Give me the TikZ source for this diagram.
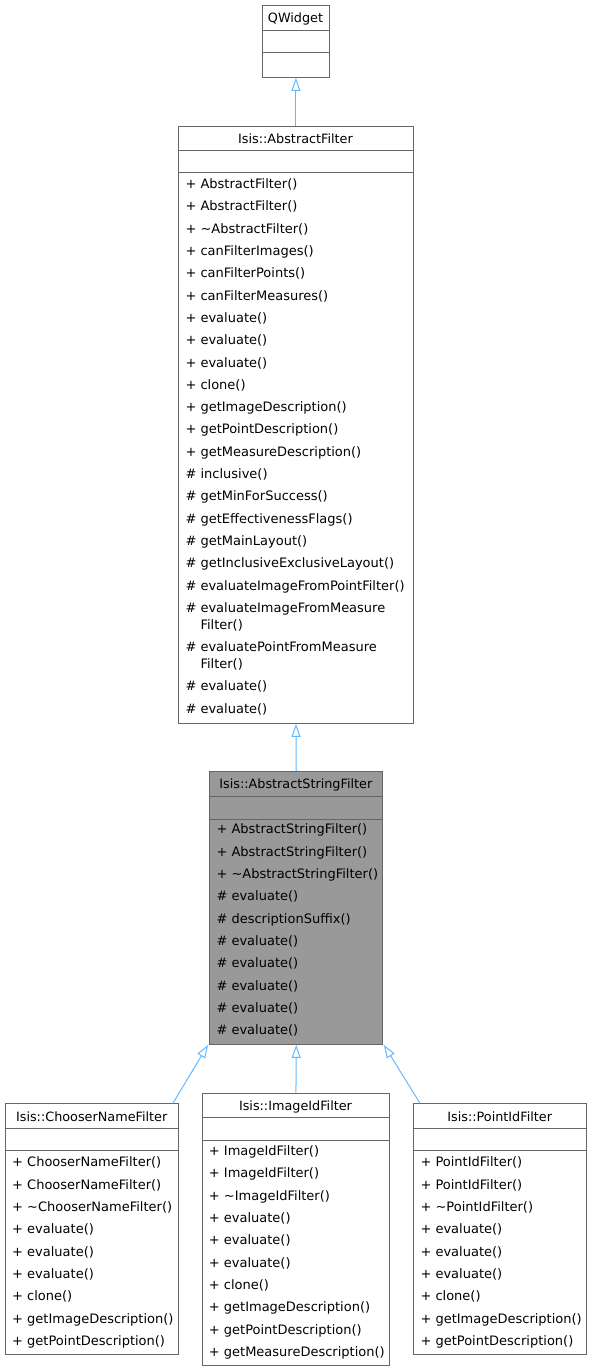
\documentclass[tikz,border=0pt]{standalone}
\usepackage{fontspec}
\setmainfont{DejaVu Sans}
\usetikzlibrary{arrows.meta}
\definecolor{boxline}{HTML}{666666}
\definecolor{boxfill}{HTML}{999999}
\definecolor{isacol}{HTML}{63B8FF}
\begin{document}
\begin{tikzpicture}[x=1pt, y=-1pt,
  cls/.style={draw=boxline, line width=0.9pt, inner sep=0pt, anchor=north west},
  sep/.style={draw=boxline, line width=0.9pt},
  title/.style={anchor=base, inner sep=0pt, font=\fontsize{12.8}{22.3}\selectfont},
  members/.style={anchor=north west, inner sep=0pt, align=left, font=\fontsize{13}{22.3}\selectfont},
  isa/.style={draw=isacol, line width=1pt, -{Triangle[open, length=13pt, width=9pt]}}]
\useasboundingbox (0,0) rectangle (592,1371);

% QWidget
\node[cls, minimum width=67pt, minimum height=72pt] (qwidget) at (262,5) {};
\draw[sep] (262,30) -- (329,30) (262,52) -- (329,52);
\node[title] (qwidget-t) at (295.5,22.7) {QWidget};

% Isis::AbstractFilter
\node[cls, minimum width=234.4pt, minimum height=597.3pt] (afilter) at (178.3,125.7) {};
\draw[sep] (178.3,150) -- (412.7,150) (178.3,172.7) -- (412.7,172.7);
\node[title] (afilter-t) at (295.5,143.4) {Isis::AbstractFilter};
\node[members] (afilter-m) at (185.3,178.6) {+ AbstractFilter()\\
+ AbstractFilter()\\
+ \textasciitilde AbstractFilter()\\
+ canFilterImages()\\
+ canFilterPoints()\\
+ canFilterMeasures()\\
+ evaluate()\\
+ evaluate()\\
+ evaluate()\\
+ clone()\\
+ getImageDescription()\\
+ getPointDescription()\\
+ getMeasureDescription()\\
\# inclusive()\\
\# getMinForSuccess()\\
\# getEffectivenessFlags()\\
\# getMainLayout()\\
\# getInclusiveExclusiveLayout()\\
\# evaluateImageFromPointFilter()\\
\# evaluateImageFromMeasure\\[-5.3pt]
\phantom{\# }Filter()\\
\# evaluatePointFromMeasure\\[-5.3pt]
\phantom{\# }Filter()\\
\# evaluate()\\
\# evaluate()};

% Isis::AbstractStringFilter
\node[cls, fill=boxfill, minimum width=173pt, minimum height=273pt] (asfilter) at (209.3,771) {};
\draw[sep] (209.3,796) -- (382.3,796) (209.3,819) -- (382.3,819);
\node[title] (asfilter-t) at (295.8,788.7) {Isis::AbstractStringFilter};
\node[members] (asfilter-m) at (216.3,823.9) {+ AbstractStringFilter()\\
+ AbstractStringFilter()\\
+ \textasciitilde AbstractStringFilter()\\
\# evaluate()\\
\# descriptionSuffix()\\
\# evaluate()\\
\# evaluate()\\
\# evaluate()\\
\# evaluate()\\
\# evaluate()};

% Isis::ChooserNameFilter
\node[cls, minimum width=173.3pt, minimum height=251pt] (chooser) at (5,1103.3) {};
\draw[sep] (5,1128.3) -- (178.3,1128.3) (5,1150.7) -- (178.3,1150.7);
\node[title] (chooser-t) at (91.7,1121) {Isis::ChooserNameFilter};
\node[members] (chooser-m) at (12,1156.9) {+ ChooserNameFilter()\\
+ ChooserNameFilter()\\
+ \textasciitilde ChooserNameFilter()\\
+ evaluate()\\
+ evaluate()\\
+ evaluate()\\
+ clone()\\
+ getImageDescription()\\
+ getPointDescription()};

% Isis::ImageIdFilter
\node[cls, minimum width=187.6pt, minimum height=272.3pt] (imageid) at (201.7,1092.7) {};
\draw[sep] (201.7,1117.7) -- (389.3,1117.7) (201.7,1140) -- (389.3,1140);
\node[title] (imageid-t) at (295.5,1110.4) {Isis::ImageIdFilter};
\node[members] (imageid-m) at (208.7,1145.6) {+ ImageIdFilter()\\
+ ImageIdFilter()\\
+ \textasciitilde ImageIdFilter()\\
+ evaluate()\\
+ evaluate()\\
+ evaluate()\\
+ clone()\\
+ getImageDescription()\\
+ getPointDescription()\\
+ getMeasureDescription()};

% Isis::PointIdFilter
\node[cls, minimum width=172.7pt, minimum height=251pt] (pointid) at (413.3,1103.3) {};
\draw[sep] (413.3,1128.3) -- (586,1128.3) (413.3,1150.7) -- (586,1150.7);
\node[title] (pointid-t) at (499.7,1121) {Isis::PointIdFilter};
\node[members] (pointid-m) at (420.3,1156.9) {+ PointIdFilter()\\
+ PointIdFilter()\\
+ \textasciitilde PointIdFilter()\\
+ evaluate()\\
+ evaluate()\\
+ evaluate()\\
+ clone()\\
+ getImageDescription()\\
+ getPointDescription()};

% inheritance
\draw[isa] (afilter.north) -- (qwidget.south);
\draw[isa] (asfilter.north) -- (afilter.south);
\draw[isa] ([xshift=-6.3pt]chooser.north east) -- ([xshift=-1.3pt]asfilter.south west);
\draw[isa] (imageid.north) -- (asfilter.south);
\draw[isa] ([xshift=6.7pt]pointid.north west) -- ([xshift=0.7pt]asfilter.south east);
\end{tikzpicture}
\end{document}
